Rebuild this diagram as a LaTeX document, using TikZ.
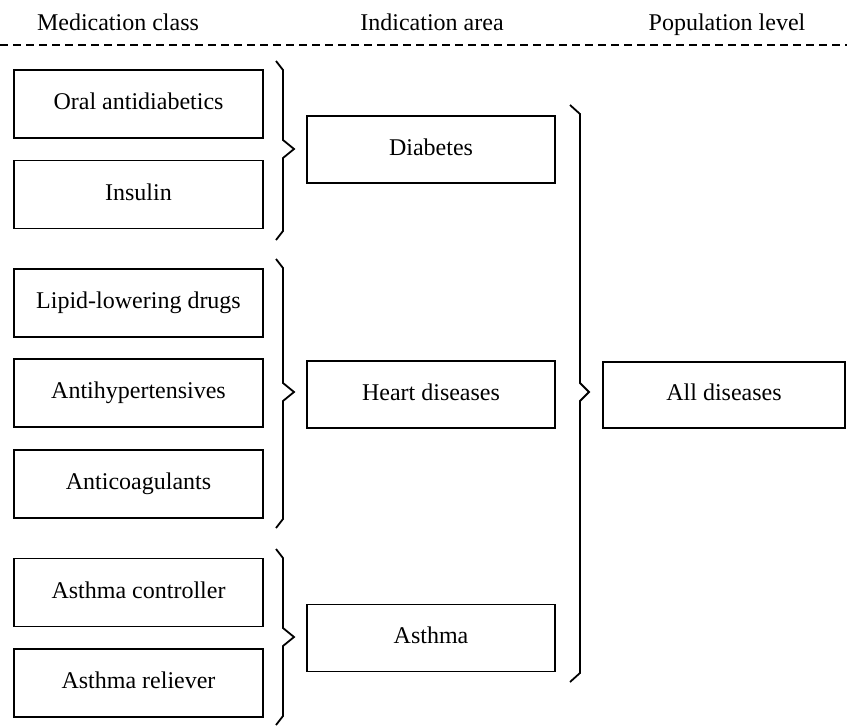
\documentclass[tikz,border=0pt]{standalone}
\usepackage{fontspec}
\setmainfont{Liberation Serif}
\begin{document}
\begin{tikzpicture}[x=1pt,y=-1pt,
  box/.style={draw,line width=1.8pt,inner sep=0pt,text height=16pt,text depth=5pt,font=\fontsize{24}{28}\selectfont},
  leftbox/.style={box,minimum width=249pt,minimum height=68pt},
  midbox/.style={box,minimum width=248pt,minimum height=67pt},
  hdr/.style={inner sep=0pt,anchor=base,font=\fontsize{24}{28}\selectfont},
  bracestyle/.style={line width=1.8pt,line join=miter}]
\useasboundingbox (0,0) rectangle (847,726);
% headers
\node[hdr] (h1) at (118,30) {Medication class};
\node[hdr] (h2) at (432,30) {Indication area};
\node[hdr] (h3) at (727,30) {Population level};
\coordinate (dl) at (0,45);
\coordinate (dr) at (847,45);
\draw[line width=1.8pt,dash pattern=on 8pt off 5pt] (dl) -- (dr);
% left column
\node[leftbox] (oral) at (138.5,104) {Oral antidiabetics};
\node[leftbox] (ins) at (138.5,194.5) {Insulin};
\node[leftbox] (lip) at (138.5,303) {Lipid-lowering drugs};
\node[leftbox] (ahy) at (138.5,393) {Antihypertensives};
\node[leftbox] (acg) at (138.5,484) {Anticoagulants};
\node[leftbox] (actl) at (138.5,592.5) {Asthma controller};
\node[leftbox] (arel) at (138.5,683) {Asthma reliever};
% middle column
\node[midbox] (dia) at (431,149.5) {Diabetes};
\node[midbox] (hrt) at (431,394.5) {Heart diseases};
\node[midbox] (ast) at (431,638) {Asthma};
% right column
\node[box,minimum width=242pt,minimum height=66pt] (all) at (724,395) {All diseases};
% braces
\newcommand\mybrace[6]{%
  \draw[bracestyle] (#1,#4) -- ({#1+#2},{#4+9}) -- ({#1+#2},{#5-9}) -- ({#1+#3},#5)
    -- ({#1+#2},{#5+9}) -- ({#1+#2},{#6-9}) -- (#1,#6);}
\mybrace{276}{7}{18}{61}{149}{240}
\mybrace{276}{7}{18}{259}{392}{528}
\mybrace{276}{7}{18}{549}{637}{725}
\mybrace{570}{10}{19}{105}{392}{682}
\end{tikzpicture}
\end{document}
